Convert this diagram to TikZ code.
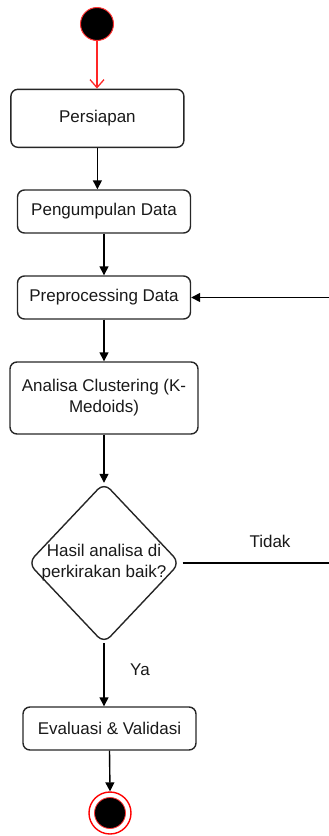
\documentclass[tikz,border=0pt]{standalone}
\usepackage{fontspec}
\setmainfont{Liberation Sans}
\usetikzlibrary{arrows.meta}

\begin{document}
\begin{tikzpicture}[x=1pt,y=-1pt,
  every node/.style={font=\fontsize{17}{21}\selectfont, text=black!90},
  action/.style={draw=black!85, line width=1.4pt, rounded corners=7pt,
    minimum width=173pt, minimum height=43pt, inner sep=0pt, align=center},
  flow/.style={draw=black, line width=1.4pt, -{Triangle[length=9pt,width=9pt]}},
  startflow/.style={draw=red!85, line width=1.3pt, -{Straight Barb[length=8pt,width=14pt]}},
  lbl/.style={inner sep=0pt}
]
\useasboundingbox (0,0) rectangle (329,836);

% initial state
\node[circle, fill=black, draw=red!80, line width=1pt, minimum size=33pt, inner sep=0pt] (start) at (97,24) {};

% activities
\node[action, minimum height=58pt] (prep) at (97.4,118.3) {Persiapan};
\node[action] (coll) at (104,211.5) {Pengumpulan Data};
\node[action] (pre) at (104,297.5) {Preprocessing Data};
\node[action, minimum width=188pt, minimum height=72pt] (clus) at (104,398) {Analisa Clustering (K-\\Medoids)};

% decision
\node[minimum width=151pt, minimum height=160pt, inner sep=0pt, align=center] (dec) at (104,563) {Hasil analisa di\\perkirakan baik?};
\draw[black!85, line width=1.4pt, rounded corners=9pt] (dec.north) -- (dec.east) -- (dec.south) -- (dec.west) -- cycle;

\node[action] (eval) at (109.5,728.5) {Evaluasi \& Validasi};

% final state
\node[circle, fill=white, draw=red, line width=1.4pt, minimum size=42pt, inner sep=0pt] (end) at (110,813) {};
\node[circle, fill=black, draw=red!80, line width=0.8pt, minimum size=31pt, inner sep=0pt] (endcore) at (end.center) {};

% flows
\draw[startflow] (start.south) -- (start.south |- prep.north);
\draw[flow] (prep.south) -- (prep.south |- coll.north);
\draw[flow] (coll.south) -- (pre.north);
\draw[flow] (pre.south) -- (clus.north);
\draw[flow] (clus.south) -- (dec.north);
\draw[flow] (dec.south) -- (dec.south |- eval.north);
\draw[flow] (eval.south) -- (end.north);
\coordinate (loop) at (333,563);
\draw[flow] ([xshift=3pt]dec.east) -- (loop) |- (pre.east);

% guards
\node[lbl] (tidak) at (270,541) {Tidak};
\node[lbl] (ya) at (140,670) {Ya};
\end{tikzpicture}
\end{document}
